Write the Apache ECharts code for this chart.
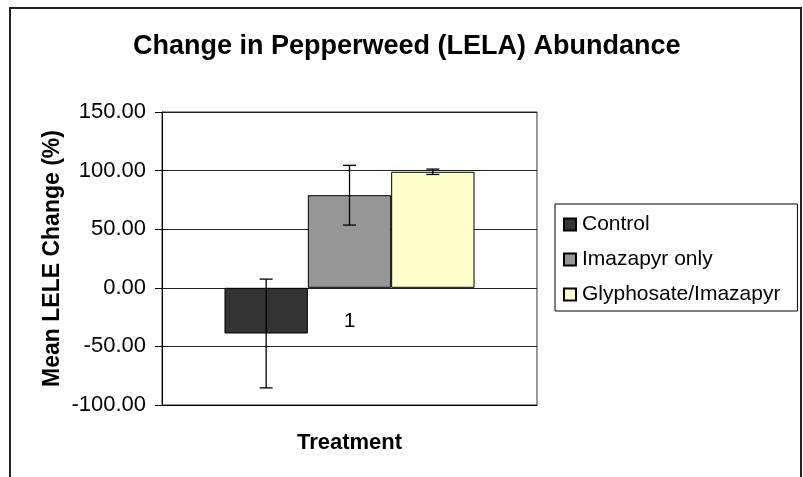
<!DOCTYPE html>
<html>
<head>
<meta charset="utf-8">
<script src="https://cdn.jsdelivr.net/npm/echarts@6/dist/echarts.min.js"></script>
<style>
  html, body { margin: 0; padding: 0; background: #fff; }
  #chart { width: 803px; height: 477px; }
</style>
</head>
<body>
<div id="chart"></div>
<script>
// data
const categories = ['1']
const seriesNames = ['Control', 'Imazapyr only', 'Glyphosate/Imazapyr']
const seriesColors = ['#333333', '#969696', '#ffffcc']
const means = [-39, 79, 99]
const errors = [46.4, 25.5, 2.3]
const yTicks = [-100, -50, 0, 50, 100, 150]

const FONT = '"Liberation Sans", Arial, sans-serif'
const GAP = 1 / 3

const chart = echarts.init(document.getElementById('chart'))

const barSeries = seriesNames.map((name, i) => ({
  name,
  type: 'bar',
  data: [means[i]],
  barGap: '0%',
  barCategoryGap: '33.33%',
  itemStyle: { color: seriesColors[i], borderColor: '#000', borderWidth: 1 },
  emphasis: { disabled: true },
}))

const errorSeries = {
  type: 'custom',
  name: 'error',
  silent: true,
  z: 5,
  data: means.map((m, i) => [0, m - errors[i], m + errors[i], i]),
  encode: { x: 0, y: [1, 2] },
  renderItem(params, api) {
    const band = api.size([1, 0])[0]
    const barWidth = band * (1 - GAP) / seriesNames.length
    const low = api.coord([api.value(0), api.value(1)])
    const high = api.coord([api.value(0), api.value(2)])
    const x = low[0] + (api.value(3) - 1) * barWidth
    const cap = 6.5
    const style = { stroke: '#000', lineWidth: 1.3 }
    return {
      type: 'group',
      children: [
        { type: 'line', shape: { x1: x, y1: low[1], x2: x, y2: high[1] }, style },
        { type: 'line', shape: { x1: x - cap, y1: low[1], x2: x + cap, y2: low[1] }, style },
        { type: 'line', shape: { x1: x - cap, y1: high[1], x2: x + cap, y2: high[1] }, style },
      ],
    }
  },
}

chart.setOption({
  animation: false,
  textStyle: { fontFamily: FONT },
  graphic: [{
    type: 'rect',
    shape: { x: 10, y: 8, width: 791, height: 490 },
    style: { fill: 'none', stroke: '#222', lineWidth: 2 },
    z: -1,
  }],
  title: {
    text: 'Change in Pepperweed (LELA) Abundance',
    left: 128,
    top: 28,
    textStyle: { fontFamily: FONT, fontSize: 27, fontWeight: 'bold', color: '#000' },
  },
  legend: {
    data: seriesNames,
    orient: 'vertical',
    left: 555,
    top: 204,
    padding: [10, 17, 6, 8],
    itemGap: 14,
    itemWidth: 12,
    itemHeight: 12,
    icon: 'rect',
    borderColor: '#000',
    borderWidth: 1,
    textStyle: { fontFamily: FONT, fontSize: 21, color: '#000', padding: [0, 0, 0, 1] },
  },
  grid: {
    left: 162,
    right: 266,
    top: 112,
    bottom: 72,
    containLabel: false,
    outerBoundsMode: 'none',
    show: true,
    borderColor: '#333',
    borderWidth: 1,
  },
  xAxis: {
    type: 'category',
    data: categories,
    axisLine: { onZero: false, lineStyle: { color: '#000', width: 1 } },
    axisTick: { show: false },
    // Excel puts the category label just under the zero line
    axisLabel: { fontFamily: FONT, fontSize: 21, color: '#000', margin: -94 },
    name: 'Treatment',
    nameLocation: 'middle',
    nameGap: 27,
    nameTextStyle: { fontFamily: FONT, fontSize: 22, fontWeight: 'bold', color: '#000' },
  },
  yAxis: {
    type: 'value',
    min: yTicks[0],
    max: yTicks[yTicks.length - 1],
    interval: 50,
    axisLine: { show: true, lineStyle: { color: '#000', width: 1 } },
    axisTick: { show: true, length: 7, lineStyle: { color: '#000' } },
    axisLabel: {
      fontFamily: FONT,
      fontSize: 22,
      color: '#000',
      margin: 16,
      formatter: v => v.toFixed(2),
    },
    splitLine: { lineStyle: { color: '#222', width: 1 } },
    name: 'Mean LELE Change (%)',
    nameLocation: 'middle',
    nameGap: 98,
    nameTextStyle: { fontFamily: FONT, fontSize: 23, fontWeight: 'bold', color: '#000' },
  },
  series: [...barSeries, errorSeries],
})
</script>
</body>
</html>
